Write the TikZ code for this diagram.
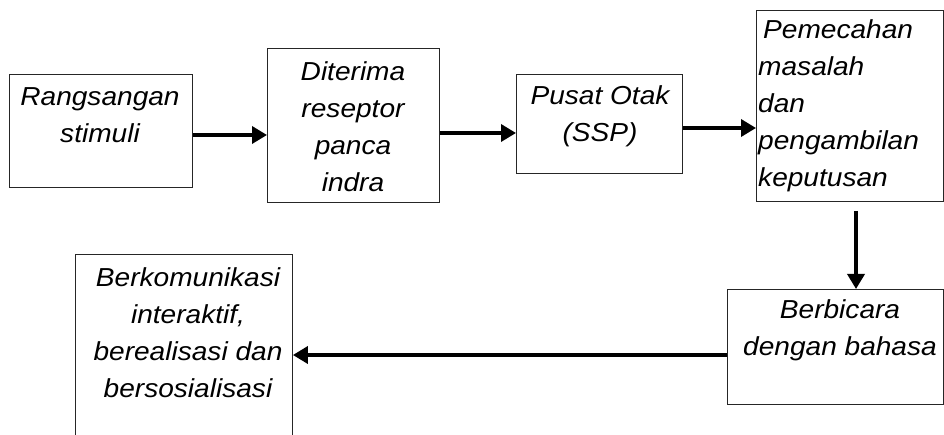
\documentclass[tikz,border=0pt]{standalone}
\usepackage{fontspec}
\setmainfont{Liberation Sans}[FakeStretch=1.08]
\usetikzlibrary{arrows.meta}
\begin{document}
\begin{tikzpicture}[x=1pt,y=-1pt,
  box/.style={draw=black!85, line width=0.9pt, inner sep=0pt, anchor=north west},
  txt/.style={inner sep=0pt, font=\fontsize{26}{37}\selectfont\itshape, align=center, anchor=base},
  arr/.style={line width=3.5pt, -{Triangle[length=15pt,width=17pt]}}]
\clip (0,0) rectangle (944,435);
% boxes
\node[box, minimum width=183pt, minimum height=113pt] (b1) at (9,74) {};
\node[box, minimum width=172pt, minimum height=154pt] (b2) at (267,48) {};
\node[box, minimum width=166pt, minimum height=99pt]  (b3) at (516,74) {};
\node[box, minimum width=187pt, minimum height=191pt] (b4) at (756,10) {};
\node[box, minimum width=216pt, minimum height=115pt] (b5) at (727,289) {};
\node[box, minimum width=217pt, minimum height=220pt] (b6) at (75,254) {};
% texts (anchored at the baseline of the last line)
\node[txt] (t1) at (100,143) {Rangsangan\\stimuli};
\node[txt] (t2) at (353,192) {Diterima\\reseptor\\panca\\indra};
\node[txt] (t3) at (600,142) {Pusat Otak\\(SSP)};
\node[txt, align=left, anchor=base west] (t4) at (758,187) {\hspace*{5pt}Pemecahan\\masalah\\dan\\pengambilan\\keputusan};
\node[txt] (t5) at (840,355) {Berbicara\\dengan bahasa};
\node[txt] (t6) at (188,397) {Berkomunikasi\\interaktif,\\berealisasi dan\\bersosialisasi};
% connector levels
\coordinate (y1) at (0,135);
\coordinate (y2) at (0,133);
\coordinate (y3) at (0,128);
\coordinate (y5) at (0,355);
\coordinate (x4) at (856,0);
% connectors
\draw[arr] (b1.east |- y1) -- (b2.west |- y1);
\draw[arr] (b2.east |- y2) -- (b3.west |- y2);
\draw[arr] (b3.east |- y3) -- (b4.west |- y3);
\draw[arr] ([yshift=-9pt]b4.south -| x4) -- (b5.north -| x4);
\draw[arr] (b5.west |- y5) -- (b6.east |- y5);
\end{tikzpicture}
\end{document}
